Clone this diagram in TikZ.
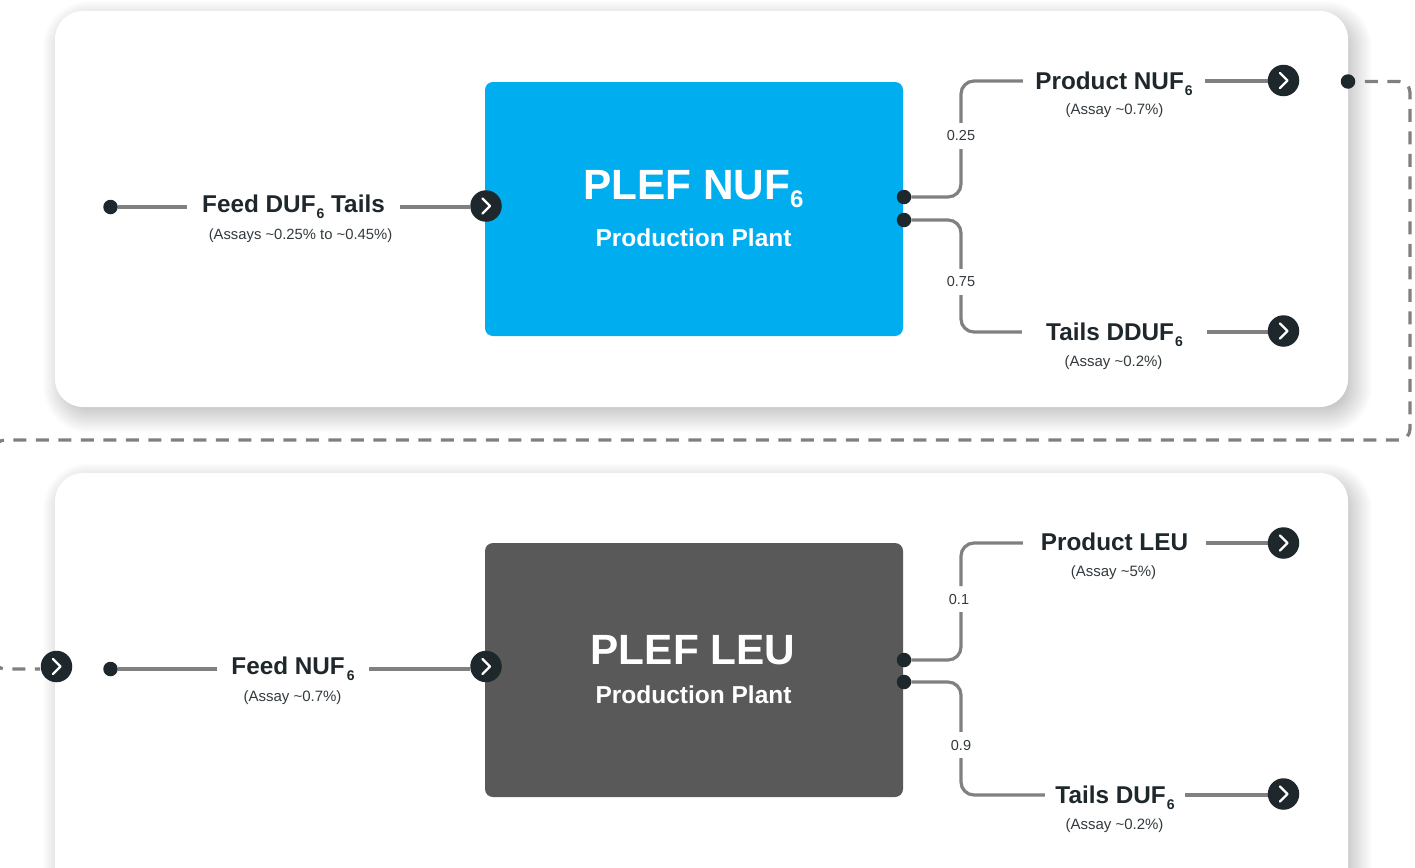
\documentclass[tikz,border=0pt]{standalone}
\usepackage{fontspec}
\setmainfont{Liberation Sans}
\definecolor{ink}{HTML}{1E272B}
\definecolor{subink}{HTML}{333A3D}
\definecolor{wire}{HTML}{808080}
\definecolor{plefblue}{HTML}{00AEEF}
\definecolor{plefgray}{HTML}{595959}
\newcommand{\six}[1]{\kern#1pt\raisebox{-6.5pt}{\fontsize{14}{14}\selectfont 6}}
\tikzset{
  x=1pt,y=-1pt,
  panel/.style={fill=white,rounded corners=28pt},
  plant/.style={rounded corners=8pt},
  bigtitle/.style={anchor=base,text=white,inner sep=0pt,font=\fontsize{42.3}{46}\selectfont\bfseries},
  plantsub/.style={anchor=base,text=white,inner sep=0pt,font=\fontsize{24.5}{28}\selectfont\bfseries},
  stream/.style={inner sep=0pt,text=ink,text height=16pt,text depth=0pt,font=\fontsize{24.3}{28}\selectfont\bfseries},
  assay/.style={anchor=base,inner sep=0pt,text=subink,font=\fontsize{15}{18}\selectfont},
  ratio/.style={inner sep=0pt,text=subink,minimum height=26pt,font=\fontsize{14.5}{17}\selectfont},
  wireline/.style={draw=wire,line width=3.2pt,rounded corners=13pt},
  dashline/.style={draw=wire,line width=3.2pt,rounded corners=11pt,dash pattern=on 13pt off 9.5pt,dash phase=13pt},
  dotn/.style={circle,fill=ink,inner sep=0pt,minimum size=14.5pt},
  go/.style={circle,fill=ink,inner sep=0pt,minimum size=31.5pt,
    path picture={\draw[white,line width=2.3pt,line cap=round,line join=round]
      ([shift={(-3.5pt,-7.5pt)}]path picture bounding box.center) --
      ([shift={(4pt,0pt)}]path picture bounding box.center) --
      ([shift={(-3.5pt,7.5pt)}]path picture bounding box.center);}},
}
\begin{document}
\begin{tikzpicture}
\useasboundingbox (0,0) rectangle (1415,867);
\clip (0,0) rectangle (1415,867);
\fill[white] (0,0) rectangle (1415,867);
% soft shadows
\foreach \g in {-18,...,18}{
  \pgfmathsetmacro{\rr}{max(28+\g,8)}
  \fill[black,opacity=.006,rounded corners=\rr pt]
    (55+6-\g,11+8-\g) rectangle (1348+6+\g,407+8+\g);
  \fill[black,opacity=.006,rounded corners=\rr pt]
    (55+6-\g,473+8-\g) rectangle (1348+6+\g,900+8+\g);
}
\fill[panel] (55,11) rectangle (1348,407);
\fill[panel] (55,473) rectangle (1348,900);
% plant boxes
\fill[plefblue,plant] (485,82) rectangle (903,336);
\fill[plefgray,plant] (485,543) rectangle (903,797);
\node[bigtitle] (t1) at (693.5,199) {PLEF NUF\raisebox{-8pt}{\fontsize{24}{24}\selectfont 6}};
\node[plantsub] (s1) at (693.5,246) {Production Plant};
\node[bigtitle] (t2) at (693,664) {PLEF LEU};
\node[plantsub] (s2) at (693.5,703) {Production Plant};
% stream labels
\node[stream,minimum width=213pt,text height=10pt] (feedA) at (293.5,207) {Feed DUF\six{1} Tails};
\node[assay] (feedAs) at (300.5,239) {\fontsize{14.8}{17}\selectfont (Assays \textasciitilde0.25\% to \textasciitilde0.45\%)};
\node[stream,minimum width=182pt] (prodA) at (1114,81) {Product NUF\six{1}};
\node[assay] (prodAs) at (1114.5,114) {(Assay \textasciitilde0.7\%)};
\node[stream,minimum width=185pt] (tailA) at (1114.5,332) {Tails DDUF\six{1}};
\node[assay] (tailAs) at (1113.5,366) {(Assay \textasciitilde0.2\%)};
\node[stream,minimum width=152pt,text height=10pt] (feedB) at (293,669) {Feed NUF\six{2}};
\node[assay] (feedBs) at (292.5,701) {(Assay \textasciitilde0.7\%)};
\node[stream,minimum width=183pt,text height=15pt] (prodB) at (1114.5,543) {Product LEU};
\node[assay] (prodBs) at (1113.5,576) {(Assay \textasciitilde5\%)};
\node[stream,minimum width=140pt] (tailB) at (1115,795) {Tails DUF\six{1}};
\node[assay] (tailBs) at (1114.5,829) {(Assay \textasciitilde0.2\%)};
% ratios
\node[ratio] (r25) at (961,136) {0.25};
\node[ratio] (r75) at (961,282) {0.75};
\node[ratio] (r10) at (959,599) {0.1};
\node[ratio] (r90) at (961,745) {0.9};
% dots
\node[dotn] (dA) at (110.5,207) {};
\node[dotn] (oA1) at (904,197) {};
\node[dotn] (oA2) at (904,220) {};
\node[dotn] (dOut) at (1348,81.5) {};
\node[dotn] (dB) at (110.5,669) {};
\node[dotn] (oB1) at (904,660) {};
\node[dotn] (oB2) at (904,682) {};
% connectors
\draw[wireline] (oA1.east) -| (r25.south);
\draw[wireline] (r25.north) |- (prodA.west);
\draw[wireline] (oA2.east) -| (r75.north);
\draw[wireline] (r75.south) |- (tailA.west);
\coordinate (j10a) at (961,612);
\coordinate (j10b) at (961,586);
\draw[wireline] (oB1.east) -| (j10a);
\draw[wireline] (j10b) |- (prodB.west);
\draw[wireline] (oB2.east) -| (r90.north);
\draw[wireline] (r90.south) |- (tailB.west);
\draw[wireline] (dA.east) -- (feedA.west);
\draw[wireline] (dB.east) -- (feedB.west);
% arrow buttons
\coordinate (dc1) at (1410,81.5);
\coordinate (dc2) at (1410,440);
\coordinate (dc3) at (-6,440);
\coordinate (dc4) at (-6,669);
\coordinate (dc5) at (40,669);
\draw[dashline] (dOut.east) -- (dc1) -- (dc2) -- (dc3) -- (dc4) -- (dc5);
\coordinate (eA) at (470,207);
\coordinate (eB) at (470,669);
\coordinate (eC) at (1268,81);
\coordinate (eD) at (1268,332);
\coordinate (eE) at (1268,543);
\coordinate (eF) at (1268,795);
\draw[wireline] (feedA.east) -- (eA);
\draw[wireline] (feedB.east) -- (eB);
\draw[wireline] (prodA.east) -- (eC);
\draw[wireline] (tailA.east) -- (eD);
\draw[wireline] (prodB.east) -- (eE);
\draw[wireline] (tailB.east) -- (eF);
\node[go] (gIn0) at (56.5,666.5) {};
\node[go] (gInA) at (486,206) {};
\node[go] (gInB) at (486,666.5) {};
\node[go] (gPA) at (1283.5,80.5) {};
\node[go] (gTA) at (1283.5,331) {};
\node[go] (gPB) at (1283.5,543) {};
\node[go] (gTB) at (1283.5,794) {};
\end{tikzpicture}
\end{document}
